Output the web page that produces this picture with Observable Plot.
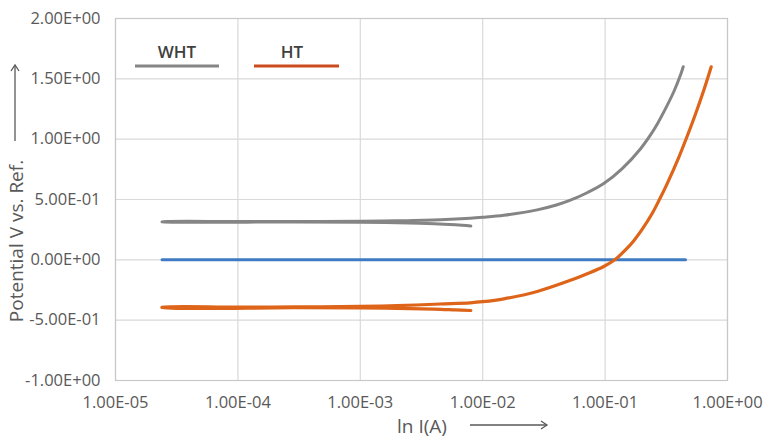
<!DOCTYPE html>
<html>
<head>
<meta charset="utf-8">
<script src="https://cdn.jsdelivr.net/npm/d3@7"></script>
<script src="https://cdn.jsdelivr.net/npm/@observablehq/plot@0.6"></script>
<style>
  html, body { margin: 0; padding: 0; background: #fff; }
  #wrap { position: relative; width: 763px; height: 439px; overflow: hidden; }
  #wrap svg.overlay { position: absolute; left: 0; top: 0; pointer-events: none; }
</style>
</head>
<body>
<div id="wrap"></div>
<script>
// ---- tick labels / axes ----
const xTicks = [1e-5, 1e-4, 1e-3, 1e-2, 1e-1, 1];
const yTicks = [-1, -0.5, 0, 0.5, 1, 1.5, 2];
const xLabel = "ln I(A)";
const yLabel = "Potential V vs. Ref.";
const seriesNames = ["WHT", "HT"];

// ---- WHT series (current A, potential V), in drawing order ----
const whtCurrent = [8.0e-3, 6.0e-3, 4.0e-3, 2.0e-3, 1.0e-3, 3.0e-4, 2.4e-5,
  2.4e-5, 1.0e-4, 3.0e-4, 1.0e-3, 2.0e-3, 4.5e-3, 7.9e-3, 1.0e-2, 1.49e-2, 2.79e-2,
  4.0e-2, 5.21e-2, 7.2e-2, 9.75e-2, 1.38e-1, 1.95e-1, 2.35e-1, 2.7e-1, 3.02e-1,
  3.64e-1, 4.13e-1, 4.35e-1];
const whtPotential = [0.280, 0.290, 0.300, 0.308, 0.312, 0.314, 0.315,
  0.316, 0.317, 0.317, 0.319, 0.324, 0.333, 0.345, 0.353, 0.370, 0.414,
  0.454, 0.494, 0.558, 0.632, 0.756, 0.921, 1.035, 1.135, 1.226,
  1.393, 1.531, 1.600];

// ---- HT series ----
const htCurrent = [8.0e-3, 6.0e-3, 4.0e-3, 2.0e-3, 1.0e-3, 3.0e-4, 2.4e-5,
  2.4e-5, 1.0e-4, 3.0e-4, 1.0e-3, 2.0e-3, 4.5e-3, 7.9e-3, 1.0e-2, 1.49e-2, 2.79e-2,
  5.21e-2, 7.14e-2, 9.75e-2, 1.2e-1, 1.5e-1, 1.71e-1, 2.0e-1, 2.43e-1, 2.8e-1, 3.21e-1,
  4.0e-1, 4.69e-1, 5.48e-1, 6.41e-1, 7.05e-1, 7.36e-1];
const htPotential = [-0.420, -0.415, -0.408, -0.402, -0.399, -0.397, -0.396,
  -0.393, -0.392, -0.390, -0.386, -0.380, -0.366, -0.356, -0.347, -0.323, -0.262,
  -0.170, -0.115, -0.055, 0.000, 0.092, 0.157, 0.250, 0.386, 0.506, 0.630,
  0.850, 1.026, 1.209, 1.408, 1.538, 1.600];

// ---- reference (0 V) line ----
const refCurrent = [2.4e-5, 0.454];
const refPotential = [0, 0];

const toRows = (xs, ys) => xs.map((x, i) => ({x, y: ys[i]}));
const wht = toRows(whtCurrent, whtPotential);
const ht = toRows(htCurrent, htPotential);
const ref = toRows(refCurrent, refPotential);

function fmt(v) {
  const [m, e] = v.toExponential(2).split("e");
  const n = +e;
  return m + "E" + (n < 0 ? "-" : "+") + String(Math.abs(n)).padStart(2, "0");
}

const colGray = "#858585", colOrange = "#dd6418", colBlue = "#3f7bc3";
const txt = "#595959";

const chart = Plot.plot({
  width: 763, height: 439,
  marginLeft: 115, marginRight: 36, marginTop: 18, marginBottom: 59,
  style: {fontFamily: "'Open Sans', sans-serif", fontSize: "16.5px", color: txt, background: "#fff"},
  x: {type: "log", domain: [1e-5, 1]},
  y: {domain: [-1, 2]},
  marks: [
    Plot.gridX(xTicks, {stroke: "#d9d9d9", strokeOpacity: 1, strokeWidth: 1.2}),
    Plot.gridY(yTicks, {stroke: "#d9d9d9", strokeOpacity: 1, strokeWidth: 1.2}),
    Plot.frame({stroke: "#c8c8c8", strokeWidth: 1.2}),
    Plot.axisX(xTicks, {tickFormat: fmt, tickSize: 0, tickPadding: 16, label: null, fontSize: 16.5, fill: txt}),
    Plot.axisY(yTicks, {tickFormat: fmt, tickSize: 0, tickPadding: 15, label: null, fontSize: 16.5, fill: txt}),
    Plot.line(ref, {x: "x", y: "y", stroke: colBlue, strokeWidth: 3}),
    Plot.line(wht, {x: "x", y: "y", stroke: colGray, strokeWidth: 3, curve: "catmull-rom"}),
    Plot.line(ht, {x: "x", y: "y", stroke: colOrange, strokeWidth: 3.2, curve: "catmull-rom"})
  ]
});
const wrap = document.getElementById("wrap");
wrap.appendChild(chart);

// ---- overlay: legend, axis titles, arrows ----
const ov = d3.select(wrap).append("svg").attr("class", "overlay")
  .attr("width", 763).attr("height", 439)
  .style("font-family", "'Open Sans', sans-serif");

const legend = [
  {name: seriesNames[0], cx: 177, x1: 135, x2: 219, color: colGray},
  {name: seriesNames[1], cx: 292, x1: 254, x2: 339, color: "#cc4a1e"}
];
legend.forEach(l => {
  ov.append("text").attr("x", l.cx).attr("y", 51).attr("text-anchor", "middle")
    .attr("dominant-baseline", "central").attr("font-size", 17).attr("font-weight", 600)
    .attr("fill", "#404040").text(l.name);
  ov.append("line").attr("x1", l.x1).attr("x2", l.x2).attr("y1", 66).attr("y2", 66)
    .attr("stroke", l.color).attr("stroke-width", 3);
});

// y title
ov.append("text").attr("transform", "translate(16,241) rotate(-90)")
  .attr("text-anchor", "middle").attr("dominant-baseline", "central")
  .attr("font-size", 19).attr("fill", txt).text(yLabel);
// y arrow
ov.append("line").attr("x1", 15).attr("x2", 15).attr("y1", 141).attr("y2", 66)
  .attr("stroke", txt).attr("stroke-width", 1.3);
ov.append("path").attr("d", "M11,71 L15,65 L19,71").attr("fill", "none")
  .attr("stroke", txt).attr("stroke-width", 1.3);

// x title
ov.append("text").attr("x", 422).attr("y", 426).attr("text-anchor", "middle")
  .attr("dominant-baseline", "central").attr("font-size", 19).attr("fill", txt).text(xLabel);
// x arrow
ov.append("line").attr("x1", 470).attr("x2", 547).attr("y1", 425).attr("y2", 425)
  .attr("stroke", txt).attr("stroke-width", 1.3);
ov.append("path").attr("d", "M541,421 L547,425 L541,429").attr("fill", "none")
  .attr("stroke", txt).attr("stroke-width", 1.3);
</script>
</body>
</html>
